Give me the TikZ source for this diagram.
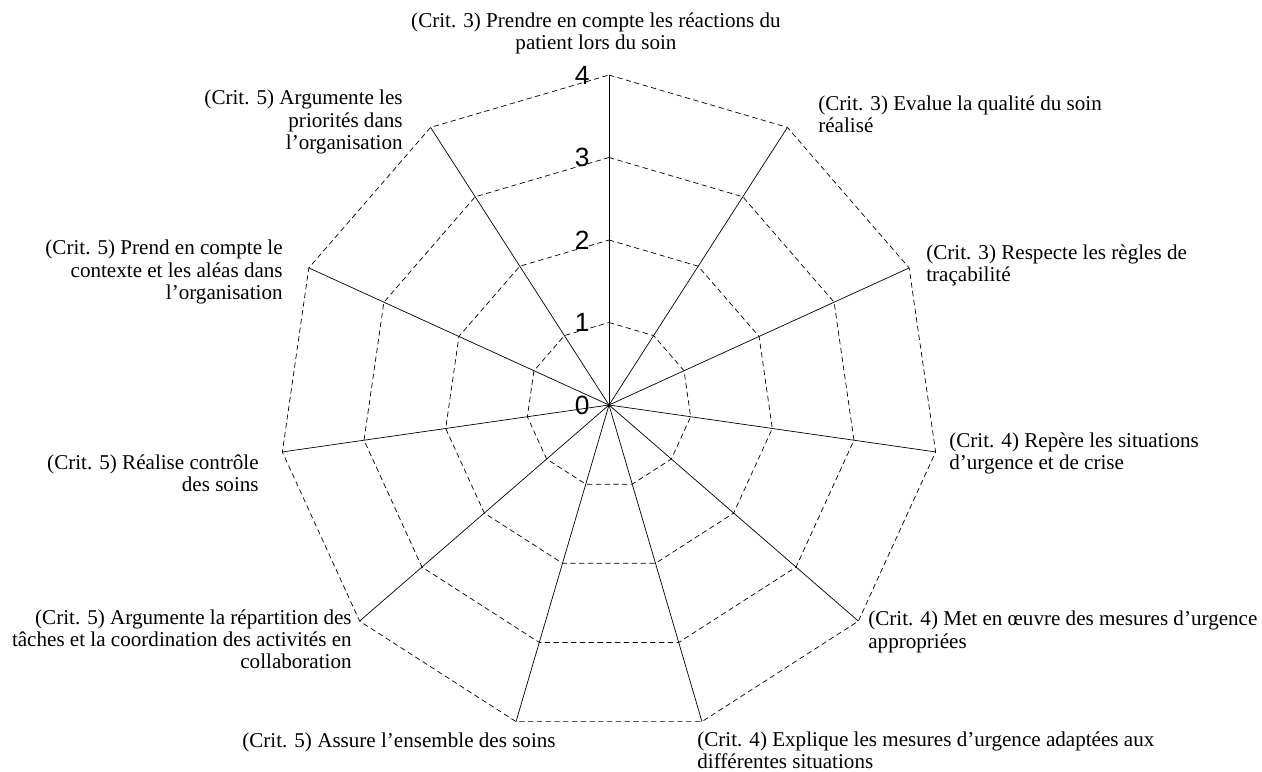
\documentclass[tikz,border=0pt]{standalone}
\usepackage{fontspec}
\setmainfont{Liberation Serif}
\setsansfont{Liberation Sans}

\begin{document}
\begin{tikzpicture}[crit/.style={font=\fontsize{12}{12.6}\selectfont,inner sep=0pt},
                    grad/.style={font=\sffamily\fontsize{15}{15}\selectfont,inner sep=0pt,anchor=east}]
                \useasboundingbox (-12.18,-7.32) rectangle (13.06,8.10);
                % rings
                \foreach \r in {1,...,4}{
                    \draw[dash pattern=on 3pt off 2pt] (90:1.65*\r) \foreach \k in {1,...,10}{ -- (90-\k*360/11:1.65*\r)} -- cycle;
                }
                % axes
                \coordinate (o) at (0,0);
                \foreach \k in {0,...,10}{
                    \coordinate (t\k) at (90-\k*360/11:6.6);
                    \draw (o)--(t\k);
                }
                \foreach \r in {0,...,4}{
                    \node[grad] (g\r) at (-0.38,1.65*\r) {\r};
                }
                % criteria
                \node[crit,anchor=north,align=center] (c0) at (-0.26,7.86) {(Crit. 3) Prendre en compte les réactions du\\patient lors du soin};
                \node[crit,anchor=north west,align=left] (c1) at (4.18,6.20) {(Crit. 3) Evalue la qualité du soin\\réalisé};
                \node[crit,anchor=north west,align=left] (c2) at (6.34,3.22) {(Crit. 3) Respecte les règles de\\traçabilité};
                \node[crit,anchor=north west,align=left] (c3) at (6.80,-0.54) {(Crit. 4) Repère les situations\\d’urgence et de crise};
                \node[crit,anchor=north west,align=left] (c4) at (5.18,-4.12) {(Crit. 4) Met en œuvre des mesures d’urgence\\appropriées};
                \node[crit,anchor=north west,align=left] (c5) at (1.76,-6.52) {(Crit. 4) Explique les mesures d’urgence adaptées aux\\différentes situations};
                \node[crit,anchor=north east,align=right] (c6) at (-1.06,-6.56) {(Crit. 5) Assure l’ensemble des soins};
                \node[crit,anchor=north east,align=right] (c7) at (-5.14,-4.08) {(Crit. 5) Argumente la répartition des\\tâches et la coordination des activités en\\collaboration};
                \node[crit,anchor=north east,align=right] (c8) at (-7.00,-0.98) {(Crit. 5) Réalise contrôle\\des soins};
                \node[crit,anchor=north east,align=right] (c9) at (-6.52,3.30) {(Crit. 5) Prend en compte le\\contexte et les aléas dans\\l’organisation};
                \node[crit,anchor=north east,align=right] (c10) at (-4.12,6.30) {(Crit. 5) Argumente les\\priorités dans\\l’organisation};
            \end{tikzpicture}
\end{document}
